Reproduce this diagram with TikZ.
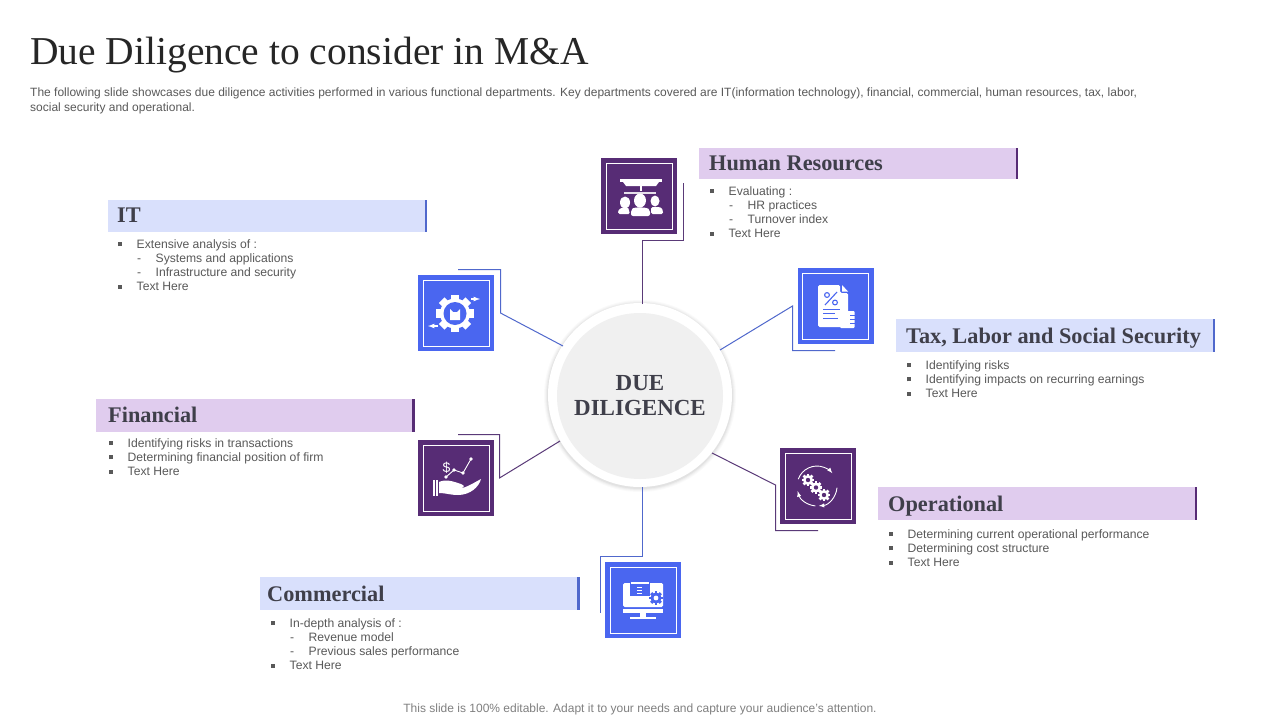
\documentclass[tikz,border=0pt]{standalone}
\usepackage{fontspec}
\usepackage{tikz}
\setmainfont{Liberation Sans}
\newfontfamily\headfont{Liberation Serif}
\definecolor{plum}{HTML}{572C75}
\definecolor{royal}{HTML}{4A66F0}
\definecolor{lilac}{HTML}{E0CCEE}
\definecolor{periwinkle}{HTML}{D9E0FC}
\definecolor{plumline}{HTML}{5A3A78}
\definecolor{royalline}{HTML}{5068CC}
\definecolor{ink}{HTML}{3F3F4A}
\definecolor{bodygrey}{HTML}{595959}
\newcommand{\sq}{\rule[2pt]{4pt}{4pt}}
\newcommand{\itm}[1]{\makebox[18.5pt][l]{\sq}#1}
\newcommand{\subitm}[1]{\hspace{19pt}\makebox[18.5pt][l]{-}#1}
\newcommand{\gearshape}[3]{%
  \foreach \a in {0,45,90,135} {\fill[#3,rotate around={\a:(#1,#2)}] ({#1-.27*\gearr},{#2-1.25*\gearr}) rectangle ({#1+.27*\gearr},{#2+1.25*\gearr});}
  \fill[#3] (#1,#2) circle ({\gearr});
}
\tikzset{
  banner/.style={anchor=north west,minimum width=319pt,minimum height=32pt,inner sep=0pt},
  headtext/.style={anchor=base west,inner sep=0pt,text=ink,font=\headfont\bfseries\fontsize{22.3}{24}\selectfont},
  bodytext/.style={anchor=north west,align=left,inner sep=0pt,text=bodygrey,font=\fontsize{12.15}{14.25}\selectfont},
  iconbox/.style={minimum size=76pt,inner sep=0pt},
  iconrim/.style={draw=white,line width=.9pt,minimum size=66pt,inner sep=0pt},
  plumlink/.style={draw=plumline,line width=1pt},
  royallink/.style={draw=royalline,line width=1pt},
}
\begin{document}
\begin{tikzpicture}[x=1pt,y=-1pt]
\useasboundingbox (0,0) rectangle (1280,720);
\fill[white] (0,0) rectangle (1280,720);
\node[anchor=base west,inner sep=0pt,text=black!85,font=\headfont\fontsize{39.5}{42}\selectfont] (title) at (30,64) {Due Diligence to consider in M\&A};
\node[bodytext,font=\fontsize{12}{14.2}\selectfont] (intro) at (30,88) {The following slide showcases due diligence activities performed in various functional departments. Key departments covered are IT(information technology), financial, commercial, human resources, tax, labor,\\social security and operational.};
\node[anchor=center,inner sep=0pt,text=black!50,font=\fontsize{12}{14}\selectfont] (footer) at (640,709) {This slide is 100\% editable. Adapt it to your needs and capture your audience's attention.};

\foreach \r/\o in {96/.02,95/.025,94/.03,93/.04} {\fill[black,opacity=\o] (640,396) circle (\r);}
\node[circle,fill=white,minimum size=184pt,inner sep=0pt] (hubrim) at (640,395) {};
\node[circle,fill=black!6,minimum size=166pt,inner sep=0pt,align=center,text=ink,font=\headfont\bfseries\fontsize{23}{25}\selectfont] (hub) at (640,396) {DUE\\DILIGENCE};

\node[banner,fill=periwinkle] (itbar) at (108,200) {};
\fill[royalline] (425,200) rectangle (427,232);
\node[headtext] (ithead) at (117,222) {IT};
\node[bodytext] (itbody) at (118,239) {\itm{Extensive analysis of :}\\\subitm{Systems and applications}\\\subitm{Infrastructure and security}\\\itm{Text Here}};

\node[banner,fill=lilac,minimum height=31pt] (hrbar) at (699,148) {};
\fill[plum] (1016,148) rectangle (1018,179);
\node[headtext] (hrhead) at (709,170) {Human Resources};
\node[bodytext] (hrbody) at (710,186) {\itm{Evaluating :}\\\subitm{HR practices}\\\subitm{Turnover index}\\\itm{Text Here}};

\node[banner,fill=periwinkle,minimum height=33pt,minimum width=319pt] (taxbar) at (896,319) {};
\fill[royalline] (1213,319) rectangle (1215,352);
\node[headtext] (taxhead) at (906,343) {Tax, Labor and Social Security};
\node[bodytext] (taxbody) at (907,360) {\itm{Identifying risks}\\\itm{Identifying impacts on recurring earnings}\\\itm{Text Here}};

\node[banner,fill=lilac,minimum height=33pt] (finbar) at (96,399) {};
\fill[plum] (412,399) rectangle (415,432);
\node[headtext] (finhead) at (108,422) {Financial};
\node[bodytext] (finbody) at (109,438) {\itm{Identifying risks in transactions}\\\itm{Determining financial position of firm}\\\itm{Text Here}};

\node[banner,fill=periwinkle,minimum height=33pt,minimum width=320pt] (combar) at (260,577) {};
\fill[royalline] (577,577) rectangle (580,610);
\node[headtext] (comhead) at (267,601) {Commercial};
\node[bodytext] (combody) at (271,618) {\itm{In-depth analysis of :}\\\subitm{Revenue model}\\\subitm{Previous sales performance}\\\itm{Text Here}};

\node[banner,fill=lilac,minimum height=33pt] (opbar) at (878,487) {};
\fill[plum] (1195,487) rectangle (1197,520);
\node[headtext] (ophead) at (888,511) {Operational};
\node[bodytext] (opbody) at (889,529) {\itm{Determining current operational performance}\\\itm{Determining cost structure}\\\itm{Text Here}};

\coordinate (hrA) at (642.5,304);
\coordinate (hrB) at (642.5,240.5);
\coordinate (hrC) at (683.5,240.5);
\coordinate (hrD) at (683.5,183);
\coordinate (itA) at (563,346);
\coordinate (itB) at (500.5,313);
\coordinate (itC) at (500.5,269.5);
\coordinate (itD) at (458,269.5);
\coordinate (taxA) at (720,350);
\coordinate (taxB) at (792.5,306);
\coordinate (taxC) at (792.5,350.5);
\coordinate (taxD) at (835,350.5);
\coordinate (finA) at (560,441);
\coordinate (finB) at (499.5,478);
\coordinate (finC) at (499.5,434.5);
\coordinate (finD) at (458,434.5);
\coordinate (comA) at (642.5,487);
\coordinate (comB) at (642.5,556.5);
\coordinate (comC) at (600.5,556.5);
\coordinate (comD) at (600.5,613);
\coordinate (opA) at (712,453);
\coordinate (opB) at (775.5,485);
\coordinate (opC) at (775.5,530.5);
\coordinate (opD) at (818,530.5);
\draw[plumlink] (hrA) -- (hrB) -- (hrC) -- (hrD);
\draw[royallink] (itA) -- (itB) -- (itC) -- (itD);
\draw[royallink] (taxA) -- (taxB) -- (taxC) -- (taxD);
\draw[plumlink] (finA) -- (finB) -- (finC) -- (finD);
\draw[royallink] (comA) -- (comB) -- (comC) -- (comD);
\draw[plumlink] (opA) -- (opB) -- (opC) -- (opD);

\node[iconbox,fill=plum] (hrbox) at (639,196) {};
\node[iconrim] (hrrim) at (639,196) {};
\node[iconbox,fill=royal] (itbox) at (456,313) {};
\node[iconrim] (itrim) at (456,313) {};
\node[iconbox,fill=royal] (taxbox) at (835.5,306) {};
\node[iconrim] (taxrim) at (835.5,306) {};
\node[iconbox,fill=plum] (finbox) at (456,478) {};
\node[iconrim] (finrim) at (456,478) {};
\node[iconbox,fill=royal] (combox) at (643,600) {};
\node[iconrim] (comrim) at (643,600) {};
\node[iconbox,fill=plum] (opbox) at (818,486) {};
\node[iconrim] (oprim) at (818,486) {};

% human resources icon
\fill[white] (620,179) rectangle (662,182);
\fill[white] (623,182) -- (659,182) -- (656,186) -- (626,186) -- cycle;
\fill[white] (640,186) rectangle (641.5,191);
\fill[white!85!plum] (624,191.5) rectangle (656,194);
\fill[white] (640,200.5) ellipse (6 and 7);
\fill[white,rounded corners=2pt] (631,216) -- (631,210) .. controls (634,207) and (646,207) .. (650,210) -- (650,216) -- cycle;
\fill[white] (625,202.5) ellipse (5 and 6);
\fill[white,rounded corners=1.5pt] (618,214) .. controls (618,209) and (622,207) .. (628,207) -- (630,214) -- cycle;
\fill[white] (655,201) ellipse (4.5 and 5.5);
\fill[white,rounded corners=1.5pt] (651,214) -- (651,207) -- (659,207) .. controls (662,208) and (663,210) .. (663,214) -- cycle;

% it icon
\def\gearr{15}
\gearshape{455}{313.5}{white}
\fill[royal] (455,313.5) circle (11.5);
\fill[white] (450,309) -- (453,312) -- (457,312) -- (460,309) -- (460,320) -- (450,320) -- cycle;
\draw[white,line width=1.2pt,-latex] (471,299) -- (480,299);
\draw[white,line width=1.2pt,-latex] (438,326) -- (428,326);

% tax icon
\fill[white,rounded corners=1.5pt] (818,285) -- (840,285) -- (840,293) -- (848,293) -- (848,327) -- (818,327) -- cycle;
\fill[white] (842,285) -- (848,291.5) -- (842,291.5) -- cycle;
\fill[white,rounded corners=1pt] (840,311) rectangle (854.5,328);
\foreach \y in {315,319,323} {\draw[royal,line width=.7pt] (850,\y) -- (855,\y);}
\draw[royal,line width=1.1pt] (825,305) -- (837,292);
\draw[royal,line width=1.1pt] (827,295) circle (2.4);
\draw[royal,line width=1.1pt] (835,302.5) circle (2.4);
\draw[royal,line width=.8pt] (823,309) -- (840,309);
\draw[royal,line width=.8pt] (823,313) -- (835,313);
\draw[royal,line width=.8pt] (823,318) -- (838,318);

% financial icon
\node[inner sep=0pt,text=white,font=\fontsize{14}{14}\selectfont] (dollar) at (446.5,468) {\$};
\draw[white,line width=.9pt] (446,477) -- (454,470) -- (463,473) -- (471,459);
\foreach \px/\py in {446/477,454/470,463/473,471/459} {\fill[white] (\px,\py) circle (1.8);}
\fill[white] (433,480) rectangle (435,496);
\fill[white] (436,480) rectangle (438,496);
\fill[white] (439,482) .. controls (446,479) and (452,481) .. (461,484) .. controls (466,486) and (464,488) .. (458,488) .. controls (464,489) and (470,485) .. (481,479) .. controls (479,487) and (470,495) .. (458,495) .. controls (450,495) and (446,493) .. (439,493) -- cycle;

% commercial icon
\fill[white,rounded corners=1.5pt] (623,583) rectangle (663,607);
\fill[white] (623,608.5) rectangle (663,612.5);
\fill[white] (640,612.5) rectangle (646,617);
\fill[white] (630,617) rectangle (656,619);
\fill[royal] (630,581) rectangle (650,596);
\fill[white] (631,582) rectangle (649,584);
\foreach \y in {587,590,593} {\draw[white,line width=.5pt] (637,\y) -- (642,\y);}
\def\gearr{5.5}
\gearshape{656}{598}{royal}
\fill[white] (656,598) circle (2.4);

% operational icon
\draw[white,line width=.9pt,-latex] (798.2,479.2) arc[start angle=-160,end angle=-40,radius=20];
\draw[white,line width=.9pt,-latex] (837,487.7) arc[start angle=5,end angle=85,radius=20];
\draw[white,line width=.9pt,-latex] (815.3,505.9) arc[start angle=95,end angle=165,radius=20];
\def\gearr{5}
\gearshape{808}{480}{white}
\fill[plum] (808,480) circle (2.2);
\gearshape{816}{487.5}{white}
\fill[plum] (816,487.5) circle (2.2);
\gearshape{824}{495}{white}
\fill[plum] (824,495) circle (2.2);
\end{tikzpicture}
\end{document}
